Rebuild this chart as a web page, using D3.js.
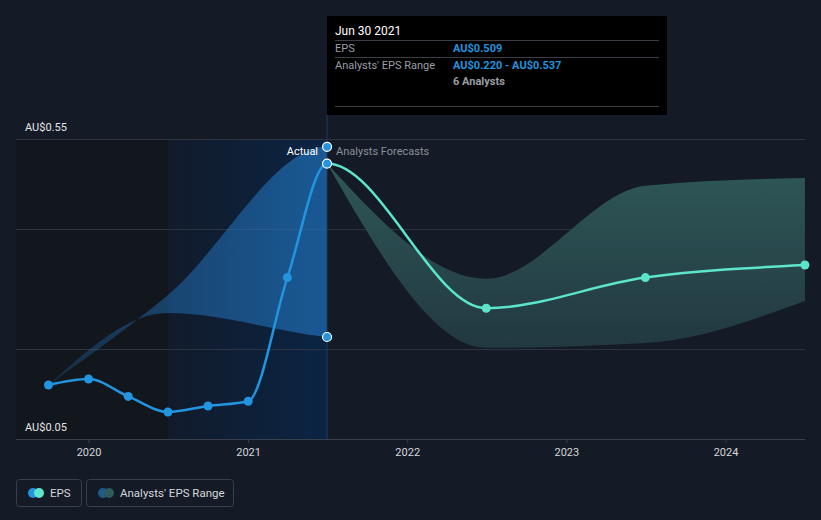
<!DOCTYPE html>
<html><head><meta charset="utf-8">
<script src="https://cdn.jsdelivr.net/npm/d3@7"></script>
<style>
html,body{margin:0;padding:0;background:#151b26;}
svg{display:block;font-family:Roboto,"Open Sans",sans-serif;}
</style></head><body>
<svg id="c" width="821" height="520"></svg>
<script>
// ---- data ----
const pastDates = ["2019-09-30","2019-12-31","2020-03-31","2020-06-30","2020-09-30","2020-12-31","2021-03-31","2021-06-30"];
const pastEPS   = [0.140, 0.150, 0.121, 0.095, 0.105, 0.113, 0.319, 0.509];
const pastRangeDates = ["2019-09-30","2020-06-30","2021-06-30","2022-06-30"];
const pastRangeLow   = [0.140, 0.260, 0.220, 0.202];
const pastRangeHigh  = [0.140, 0.290, 0.537, 0.317];
const fcDates = ["2021-06-30","2022-06-30","2023-06-30","2024-06-30"];
const fcEPS   = [0.509, 0.268, 0.319, 0.340];
const fcLow   = [0.509, 0.202, 0.210, 0.280];
const fcHigh  = [0.509, 0.317, 0.472, 0.485];
const yTickLabels = ["AU$0.55","AU$0.05"];
const yTickValues = [0.55, 0.05];
const gridValues = [0.55, 0.40, 0.20];
const xTickYears = [2020, 2021, 2022, 2023, 2024];

const P = d3.timeParse("%Y-%m-%d");
const svg = d3.select("#c");
const L = 16, R = 805, T = 139, B = 439;
const x = d3.scaleTime().domain([new Date(2020,0,1), new Date(2024,0,1)]).range([89, 726]);
const y = d3.scaleLinear().domain([0.05, 0.55]).range([B, T]);
const nowX = x(P("2021-06-30"));
const yearAgoX = x(P("2020-06-30"));

const defs = svg.append("defs");
const g1 = defs.append("linearGradient").attr("id","hl").attr("x1","0").attr("x2","1").attr("y1","0").attr("y2","0");
g1.append("stop").attr("offset","0").attr("stop-color","#111b2b");
g1.append("stop").attr("offset","1").attr("stop-color","#0b2444");
const g2 = defs.append("linearGradient").attr("id","ba").attr("gradientUnits","userSpaceOnUse")
  .attr("x1",x(P("2019-09-30"))).attr("x2",nowX).attr("y1",0).attr("y2",0);
g2.append("stop").attr("offset","0").attr("stop-color","#2379c6").attr("stop-opacity",0.22);
g2.append("stop").attr("offset","0.45").attr("stop-color","#2379c6").attr("stop-opacity",0.45);
g2.append("stop").attr("offset","1").attr("stop-color","#2379c6").attr("stop-opacity",0.62);
const g3 = defs.append("linearGradient").attr("id","ga").attr("gradientUnits","userSpaceOnUse")
  .attr("x1",0).attr("x2",0).attr("y1",T).attr("y2",B-90);
g3.append("stop").attr("offset","0").attr("stop-color","#315c5b");
g3.append("stop").attr("offset","1").attr("stop-color","#213840");
defs.append("clipPath").attr("id","pastClip").append("rect").attr("x",L).attr("y",0).attr("width",nowX-L).attr("height",B);
defs.append("clipPath").attr("id","futClip").append("rect").attr("x",nowX).attr("y",0).attr("width",R-nowX+2).attr("height",B);

// background regions
svg.append("rect").attr("x",L).attr("y",T).attr("width",yearAgoX-L).attr("height",B-T).attr("fill","#12161d");
svg.append("rect").attr("x",yearAgoX).attr("y",T).attr("width",nowX-yearAgoX).attr("height",B-T).attr("fill","url(#hl)");

// grid
svg.append("g").selectAll("line").data(gridValues).join("line")
  .attr("x1",L).attr("x2",R).attr("y1",d=>y(d)+0.5).attr("y2",d=>y(d)+0.5)
  .attr("stroke","#2e343f").attr("stroke-width",1);

// past range area
const pr = pastRangeDates.map((d,i)=>({d:P(d),lo:pastRangeLow[i],hi:pastRangeHigh[i]}));
svg.append("path").datum(pr).attr("clip-path","url(#pastClip)")
  .attr("d", d3.area().curve(d3.curveMonotoneX).x(d=>x(d.d)).y0(d=>y(d.lo)).y1(d=>y(d.hi)))
  .attr("fill","url(#ba)");

// forecast range area
const fr = fcDates.map((d,i)=>({d:P(d),lo:fcLow[i],hi:fcHigh[i]}));
svg.append("path").datum(fr)
  .attr("d", d3.area().curve(d3.curveMonotoneX).x(d=>x(d.d)).y0(d=>y(d.lo)).y1(d=>y(d.hi)))
  .attr("fill","url(#ga)");

// vertical now line
svg.append("line").attr("x1",nowX).attr("x2",nowX).attr("y1",114).attr("y2",B)
  .attr("stroke","#1c3b60").attr("stroke-width",1);

// axis
const xa = svg.append("g").attr("transform",`translate(0,${B})`);
xa.append("line").attr("x1",L).attr("x2",R).attr("y1",0.5).attr("y2",0.5).attr("stroke","#3a404b");
const xt = xTickYears.map(yr=>new Date(yr,0,1));
xa.selectAll("line.t").data(xt).join("line").attr("class","t")
  .attr("x1",d=>x(d)).attr("x2",d=>x(d)).attr("y1",0).attr("y2",4).attr("stroke","#3a404b");
xa.selectAll("text").data(xt).join("text")
  .attr("x",d=>x(d)).attr("y",17).attr("text-anchor","middle")
  .attr("fill","#d3d6db").attr("font-size",11).text(d=>d3.timeFormat("%Y")(d));

svg.selectAll("text.yl").data(yTickValues).join("text").attr("class","yl")
  .attr("x",25).attr("y",d=>y(d)-8).attr("fill","#e3e5e8").attr("font-size",11)
  .text((d,i)=>yTickLabels[i]);

// lines (one continuous series, coloured past / forecast)
const pe = pastDates.map((d,i)=>({d:P(d),v:pastEPS[i]}));
const fe = fcDates.map((d,i)=>({d:P(d),v:fcEPS[i]}));
const all = pe.concat(fe.slice(1));
const ln = d3.line().curve(d3.curveMonotoneX).x(d=>x(d.d)).y(d=>y(d.v));
svg.append("path").datum(all).attr("d",ln).attr("clip-path","url(#futClip)").attr("fill","none").attr("stroke","#5ce5cb").attr("stroke-width",2.5);
svg.append("path").datum(all).attr("d",ln).attr("clip-path","url(#pastClip)").attr("fill","none").attr("stroke","#2394df").attr("stroke-width",2.5);

svg.selectAll("circle.fp").data(fe.slice(1)).join("circle").attr("class","fp")
  .attr("cx",d=>x(d.d)).attr("cy",d=>y(d.v)).attr("r",4.5).attr("fill","#5ce5cb");
svg.selectAll("circle.pp").data(pe.slice(0,-1)).join("circle").attr("class","pp")
  .attr("cx",d=>x(d.d)).attr("cy",d=>y(d.v)).attr("r",4.5).attr("fill","#2394df");
const hov = [pastRangeHigh[2], pastEPS[7], pastRangeLow[2]];
svg.selectAll("circle.hp").data(hov).join("circle").attr("class","hp")
  .attr("cx",nowX).attr("cy",d=>y(d)).attr("r",4.5).attr("fill","#2394df")
  .attr("stroke","#ffffff").attr("stroke-width",1.2);

// actual / forecast labels
svg.append("text").attr("x",nowX-9).attr("y",155).attr("text-anchor","end")
  .attr("fill","#ffffff").attr("font-size",11).text("Actual");
svg.append("text").attr("x",nowX+9).attr("y",155)
  .attr("fill","#8a9099").attr("font-size",11).text("Analysts Forecasts");

// tooltip
const tt = svg.append("g");
tt.append("rect").attr("x",327).attr("y",16).attr("width",340).attr("height",99).attr("fill","#000000");
[40.5,57.5,106.5].forEach(v=>tt.append("line").attr("x1",335).attr("x2",659).attr("y1",v).attr("y2",v).attr("stroke","#3b3f45"));
tt.append("text").attr("x",335).attr("y",35).attr("fill","#ffffff").attr("font-size",12).text("Jun 30 2021");
tt.append("text").attr("x",335).attr("y",52).attr("fill","#9a9ea5").attr("font-size",11).text("EPS");
tt.append("text").attr("x",453).attr("y",52).attr("fill","#2394df").attr("font-size",11).attr("font-weight","bold").text("AU$" + pastEPS[7].toFixed(3));
tt.append("text").attr("x",335).attr("y",69).attr("fill","#9a9ea5").attr("font-size",11).text("Analysts' EPS Range");
tt.append("text").attr("x",453).attr("y",69).attr("fill","#2394df").attr("font-size",11).attr("font-weight","bold")
  .text("AU$" + pastRangeLow[2].toFixed(3) + " - AU$" + pastRangeHigh[2].toFixed(3));
tt.append("text").attr("x",453).attr("y",85).attr("fill","#9a9ea5").attr("font-size",11).attr("font-weight","bold").text("6 Analysts");

// legend
const leg = svg.append("g");
const items = [{x:16,w:65,label:"EPS",c1:"#2394df",c2:"#5ce5cb"},{x:86,w:147,label:"Analysts' EPS Range",c1:"#1f5a88",c2:"#2f5c5b"}];
items.forEach(it=>{
  leg.append("rect").attr("x",it.x+0.5).attr("y",479.5).attr("width",it.w).attr("height",27).attr("rx",3)
    .attr("fill","none").attr("stroke","#3a404b");
  leg.append("circle").attr("cx",it.x+17).attr("cy",493).attr("r",5).attr("fill",it.c1);
  leg.append("circle").attr("cx",it.x+23).attr("cy",493).attr("r",5).attr("fill",it.c2);
  leg.append("text").attr("x",it.x+34).attr("y",497).attr("fill","#d3d6db").attr("font-size",11.5).text(it.label);
});
</script>
</body></html>
